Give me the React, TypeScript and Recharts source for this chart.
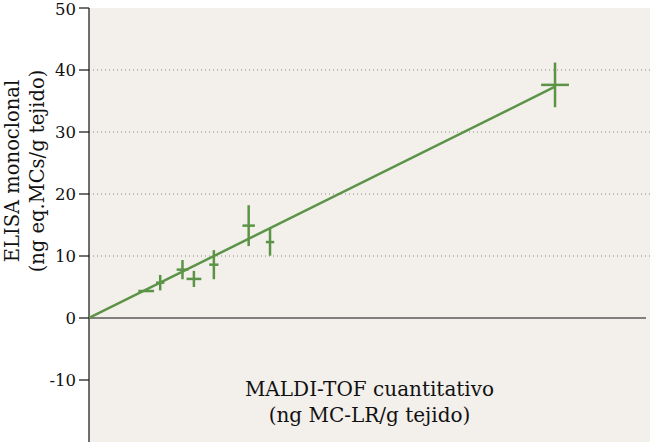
import { ComposedChart, Scatter, ErrorBar, XAxis, YAxis, CartesianGrid, ReferenceLine, Label } from "recharts";

// MALDI-TOF (x) vs ELISA (y), with error in both directions
const maldi = [6.16, 7.67, 10.07, 11.3, 13.45, 17.2, 19.5, 50.2];
const elisa = [4.35, 5.7, 7.8, 6.3, 8.6, 14.9, 12.25, 37.6];
const maldiErr = [0.85, 0.45, 0.63, 0.8, 0.5, 0.67, 0.45, 1.5];
const elisaErr = [0, 1.25, 1.55, 1.3, 2.35, 3.3, 2.2, 3.6];

// regression line, from origin to the last sample
const fitLine = [
  { x: 0, y: 0 },
  { x: 50.2, y: 37.3 },
];

const xTicks = [20, 40, 60];
const yTicks = [-10, 0, 10, 20, 30, 40, 50];
const gridValues = [10, 20, 30, 40];

const points = maldi.map((x, i) => ({ x, y: elisa[i], ex: maldiErr[i], ey: elisaErr[i] }));

const GREEN = "#5b9446";
const FONT = "DejaVu Serif";

const W = 650;
const H = 442;
const TOP = 8;
const Y_MIN = -20;
const Y_MAX = 50;
const zeroY = TOP + ((Y_MAX - 0) / (Y_MAX - Y_MIN)) * (H - TOP);

const Nothing = () => <g />;

const XTick = (props: any) => {
  const { x, payload } = props;
  return (
    <g>
      <line x1={x} x2={x} y1={zeroY} y2={zeroY + 9} stroke="#111" strokeWidth={1.2} />
      <text x={x} y={zeroY + 28} textAnchor="middle" style={{ fontFamily: FONT }} fontSize={16.5} fill="#111">
        {payload.value}
      </text>
    </g>
  );
};

const YLabel = () => {
  const cy = 171;
  return (
    <g style={{ fontFamily: FONT }} fontSize={19.5} fill="#111">
      <text x={18.5} y={cy} textAnchor="middle" transform={`rotate(-90, 18.5, ${cy})`}>
        ELISA monoclonal
      </text>
      <text x={44} y={cy} textAnchor="middle" transform={`rotate(-90, 44, ${cy})`}>
        (ng eq.MCs/g tejido)
      </text>
    </g>
  );
};

export default function App() {
  return (
    <div style={{ position: "fixed", left: 0, top: 0, background: "#fff" }}>
      <ComposedChart width={W} height={H} margin={{ top: TOP, right: 0, bottom: 0, left: 0 }}>
        <CartesianGrid horizontal={false} vertical={false} fill="#f3efeb" stroke="none" />
        <XAxis
          type="number"
          dataKey="x"
          domain={[0, 60.43]}
          ticks={xTicks}
          allowDataOverflow
          height={0}
          axisLine={false}
          tickLine={false}
          tick={<XTick />}
        />
        <YAxis
          type="number"
          dataKey="y"
          domain={[Y_MIN, Y_MAX]}
          ticks={yTicks}
          allowDataOverflow
          width={89}
          tickSize={10}
          tickMargin={3}
          axisLine={{ stroke: "#111", strokeWidth: 1.2 }}
          tickLine={{ stroke: "#111", strokeWidth: 1.2 }}
          tick={{ fill: "#111", fontSize: 16.5, style: { fontFamily: FONT } }}
          label={<Label content={<YLabel />} />}
        />
        {gridValues.map((v) => (
          <ReferenceLine key={v} y={v} stroke="#8a8a8a" strokeWidth={1} strokeDasharray="1 3" />
        ))}
        <ReferenceLine
          segment={[
            { x: 0, y: 0 },
            { x: 60, y: 0 },
          ]}
          stroke="#111"
          strokeWidth={1.2}
        />
        <Scatter data={fitLine} line={{ stroke: GREEN, strokeWidth: 2.5 }} shape={<Nothing />} isAnimationActive={false} />
        <Scatter data={points} shape={<Nothing />} isAnimationActive={false}>
          <ErrorBar dataKey="ex" direction="x" width={0} stroke={GREEN} strokeWidth={2.5} isAnimationActive={false} />
          <ErrorBar dataKey="ey" direction="y" width={0} stroke={GREEN} strokeWidth={2.5} isAnimationActive={false} />
        </Scatter>
        <text x={369.5} y={396} textAnchor="middle" style={{ fontFamily: FONT }} fontSize={20} fill="#111">
          MALDI-TOF cuantitativo
        </text>
        <text x={369.5} y={422} textAnchor="middle" style={{ fontFamily: FONT }} fontSize={20} fill="#111">
          (ng MC-LR/g tejido)
        </text>
      </ComposedChart>
    </div>
  );
}
